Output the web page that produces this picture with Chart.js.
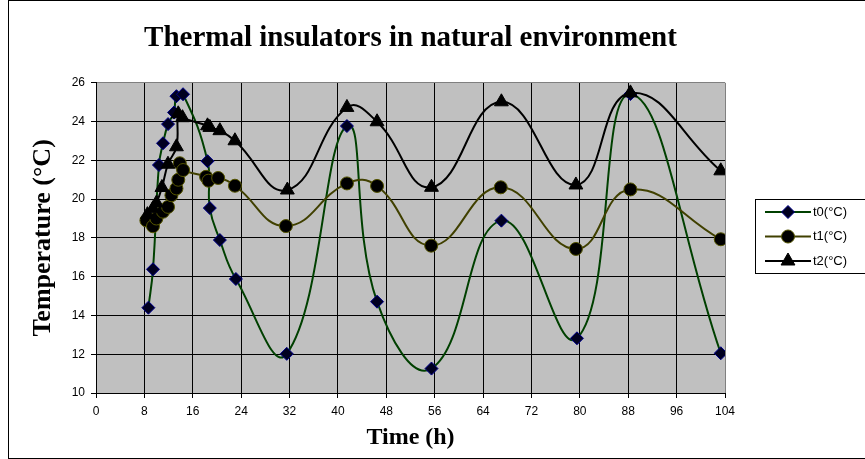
<!DOCTYPE html>
<html>
<head>
<meta charset="utf-8">
<script src="https://cdn.jsdelivr.net/npm/chart.js@4.4.1/dist/chart.umd.min.js"></script>
<style>
  html, body { margin: 0; padding: 0; background: #fff; }
  canvas { display: block; }
</style>
</head>
<body>
<canvas id="grafica" width="865" height="459"></canvas>
<script>
// tiempos (h) y temperaturas (°C)
const tiempo_t0 = [8.66, 9.42, 10.41, 11.08, 11.91, 12.9, 13.3, 14.39, 18.44, 18.82, 20.48, 23.13, 31.54, 41.49, 46.47, 55.47, 67.03, 79.52, 88.36, 103.3];
const temp_t0   = [14.4, 16.38, 21.76, 22.88, 23.87, 24.47, 25.31, 25.41, 21.96, 19.54, 17.89, 15.88, 12.02, 23.77, 14.71, 11.26, 18.89, 12.82, 25.42, 12.05];

const tiempo_t1 = [8.33, 9.42, 9.98, 11.08, 11.91, 12.47, 13.3, 13.6, 13.85, 14.4, 18.2, 18.6, 20.2, 22.97, 31.4, 41.49, 46.47, 55.42, 66.92, 79.35, 88.36, 103.3];
const temp_t1   = [18.9, 18.6, 19.0, 19.35, 19.6, 20.2, 20.55, 21.0, 21.85, 21.5, 21.15, 20.95, 21.09, 20.69, 18.61, 20.81, 20.68, 17.6, 20.61, 17.43, 20.5, 17.93];

const tiempo_t2 = [8.5, 9.4, 10.0, 10.9, 11.9, 13.3, 13.6, 14.3, 18.44, 18.82, 20.48, 22.97, 31.64, 41.49, 46.47, 55.47, 67.03, 79.35, 88.36, 103.3];
const temp_t2   = [19.2, 19.5, 19.8, 20.6, 21.8, 22.7, 24.4, 24.2, 23.78, 23.7, 23.53, 23.01, 20.47, 24.73, 23.99, 20.61, 25.02, 20.73, 25.48, 21.46];

const ticksX = [0, 8, 16, 24, 32, 40, 48, 56, 64, 72, 80, 88, 96, 104];
const ticksY = [10, 12, 14, 16, 18, 20, 22, 24, 26];

function puntos(xs, ys) {
  return xs.map((x, i) => ({ x: x, y: ys[i] }));
}

// fondo gris del area y marco exterior
const fondo = {
  id: 'fondo',
  beforeDraw(chart) {
    const ctx = chart.ctx;
    const a = chart.chartArea;
    ctx.save();
    ctx.fillStyle = '#ffffff';
    ctx.fillRect(0, 0, chart.width, chart.height);
    ctx.fillStyle = '#c0c0c0';
    ctx.fillRect(a.left, a.top, a.right - a.left, a.bottom - a.top);
    ctx.strokeStyle = '#000000';
    ctx.lineWidth = 1;
    ctx.strokeRect(8.5, 0.5, 900, 458);
    ctx.restore();
  }
};

// leyenda estilo excel: linea con marcador
const leyenda = {
  id: 'leyenda',
  afterDraw(chart) {
    const ctx = chart.ctx;
    ctx.save();
    ctx.strokeStyle = '#000000';
    ctx.lineWidth = 1;
    ctx.strokeRect(755.5, 199.5, 140, 74);
    chart.data.datasets.forEach((ds, i) => {
      const y = 212 + i * 24.5;
      ctx.strokeStyle = ds.borderColor;
      ctx.lineWidth = ds.borderWidth;
      ctx.beginPath();
      ctx.moveTo(765, y);
      ctx.lineTo(811, y);
      ctx.stroke();
      ctx.fillStyle = ds.pointBackgroundColor;
      ctx.strokeStyle = ds.pointBorderColor;
      ctx.lineWidth = ds.pointBorderWidth;
      Chart.helpers.drawPoint(ctx, {
        pointStyle: ds.pointStyle,
        radius: ds.pointRadius,
        rotation: 0,
        borderWidth: ds.pointBorderWidth
      }, 788, y);
      ctx.fillStyle = '#000000';
      ctx.font = '13px "Liberation Sans"';
      ctx.textAlign = 'left';
      ctx.textBaseline = 'middle';
      ctx.fillText(ds.label, 813, y);
    });
    ctx.restore();
  }
};

const data = {
  datasets: [
    {
      label: 't0(°C)',
      data: puntos(tiempo_t0, temp_t0),
      borderColor: '#004000',
      borderWidth: 2,
      pointStyle: 'rectRot',
      pointRadius: 6.5,
      pointBackgroundColor: '#000020',
      pointBorderColor: '#00008b',
      pointBorderWidth: 1,
      tension: 0.45,
      showLine: true,
      order: 3
    },
    {
      label: 't1(°C)',
      data: puntos(tiempo_t1, temp_t1),
      borderColor: '#404000',
      borderWidth: 2,
      pointStyle: 'circle',
      pointRadius: 6.5,
      pointBackgroundColor: '#000000',
      pointBorderColor: '#555500',
      pointBorderWidth: 1,
      tension: 0.45,
      showLine: true,
      order: 2
    },
    {
      label: 't2(°C)',
      data: puntos(tiempo_t2, temp_t2),
      borderColor: '#000000',
      borderWidth: 2,
      pointStyle: 'triangle',
      pointRadius: 8,
      pointBackgroundColor: '#000000',
      pointBorderColor: '#000000',
      pointBorderWidth: 1,
      tension: 0.45,
      showLine: true,
      order: 1
    }
  ]
};

const config = {
  type: 'scatter',
  data: data,
  plugins: [fondo, leyenda],
  options: {
    responsive: false,
    animation: false,
    devicePixelRatio: 1,
    layout: { padding: { left: 8, right: 140, top: 0, bottom: 0 } },
    plugins: {
      legend: { display: false },
      tooltip: { enabled: false },
      title: {
        display: true,
        text: 'Thermal insulators in natural environment',
        fullSize: false,
        color: '#000000',
        font: { family: 'Liberation Serif', size: 29, weight: 'bold' },
        padding: { top: 21, bottom: 27 }
      }
    },
    scales: {
      x: {
        type: 'linear',
        min: 0,
        max: 104,
        afterBuildTicks: s => { s.ticks = ticksX.map(v => ({ value: v })); },
        afterFit: s => { s.height = 66; },
        ticks: { color: '#000000', font: { family: 'Liberation Sans', size: 12 }, padding: 6, maxRotation: 0 },
        grid: {
          color: c => (c.tick && c.tick.value === 104 ? '#808080' : '#000000'),
          lineWidth: 1,
          tickLength: 5,
          tickColor: '#000000'
        },
        border: { color: '#000000', width: 1 },
        title: {
          display: true,
          text: 'Time (h)',
          color: '#000000',
          font: { family: 'Liberation Serif', size: 24, weight: 'bold' },
          padding: { top: 0, bottom: 7 }
        }
      },
      y: {
        type: 'linear',
        min: 10,
        max: 26,
        afterBuildTicks: s => { s.ticks = ticksY.map(v => ({ value: v })); },
        afterFit: s => { s.width = 88; },
        ticks: { color: '#000000', font: { family: 'Liberation Sans', size: 12 }, padding: 6 },
        grid: {
          color: c => (c.tick && c.tick.value === 26 ? '#808080' : '#000000'),
          lineWidth: 1,
          tickLength: 5,
          tickColor: '#000000'
        },
        border: { color: '#000000', width: 1 },
        title: {
          display: true,
          text: 'Temperature (°C)',
          color: '#000000',
          font: { family: 'Liberation Serif', size: 26, weight: 'bold' },
          padding: { top: 20, bottom: 0 }
        }
      }
    }
  }
};

const g_principal = document.getElementById('grafica');
const myChart = new Chart(g_principal, config);
</script>
</body>
</html>
